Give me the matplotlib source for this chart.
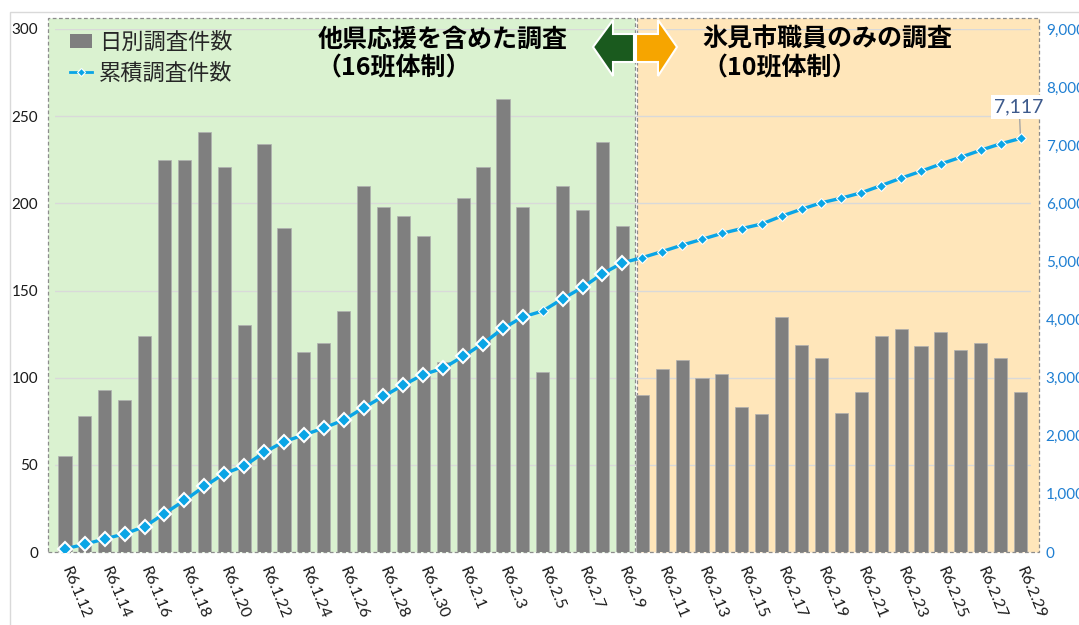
import matplotlib.pyplot as plt
from matplotlib.patches import Rectangle, Polygon
from matplotlib.lines import Line2D

W, H = 1079, 625

# daily counts R6.1.12 - R6.2.29
dates = [f"R6.1.{d}" for d in range(12, 32)] + [f"R6.2.{d}" for d in range(1, 30)]
daily = [55, 78, 93, 87, 124, 225, 225, 241, 221, 130,
         234, 186, 115, 120, 138, 210, 198, 193, 181, 109,
         203, 221, 260, 198, 103, 210, 196, 235, 187,
         90, 105, 110, 100, 102, 83, 79, 135, 119, 111,
         80, 92, 124, 128, 118, 126, 116, 120, 111, 92]
cumulative = [55, 133, 226, 313, 437, 662, 887, 1128, 1349, 1479,
              1713, 1899, 2014, 2134, 2272, 2482, 2680, 2873, 3054, 3163,
              3366, 3587, 3847, 4045, 4148, 4358, 4554, 4789, 4976,
              5066, 5171, 5281, 5381, 5483, 5566, 5645, 5780, 5899, 6010,
              6090, 6182, 6306, 6434, 6552, 6678, 6794, 6914, 7025, 7117]
n_support = 29  # days with support from other prefectures

left_ticks = [0, 50, 100, 150, 200, 250, 300]
right_ticks = [0, 1000, 2000, 3000, 4000, 5000, 6000, 7000, 8000, 9000]

CJK = ["Noto Sans CJK JP", "DejaVu Sans"]
NUM = ["Lato", "Noto Sans CJK JP", "DejaVu Sans"]
BAR_C = "#7F7F7F"
LINE_C = "#0AA5E6"
BLUE_TXT = "#1F7FD2"
GREEN_BG = "#DAF2D0"
ORANGE_BG = "#FFE6BA"


def px(x, y):
    # pixel coords (top-left origin) -> figure fraction
    return x / W, 1 - y / H


fig = plt.figure(figsize=(W / 100, H / 100), dpi=100)
fig.patch.set_facecolor("white")

# outer chart border
fig.add_artist(Rectangle(px(10, 700), 2, (700 - 12) / H, transform=fig.transFigure,
                         fill=False, edgecolor="#D9D9D9", lw=1))

x0, y0 = px(55, 552)
x1, y1 = px(1030.5, 29)
ax = fig.add_axes([x0, y0, x1 - x0, y1 - y0])
ax.patch.set_visible(False)
ax2 = ax.twinx()

xs = list(range(len(daily)))
ax.set_xlim(-0.5, len(daily) - 0.5)
ax.set_ylim(0, 300)
ax2.set_ylim(0, 9000)

# background regions (extend a bit beyond the plot area)
step = 975.5 / len(daily)
top = 300 + 11 / 523 * 300
left_edge = -0.5 - 7 / step
mid = n_support - 0.5 + 2.5 / step
right_edge = len(daily) - 0.5 + 8.5 / step
ax.add_patch(Rectangle((left_edge, 0), mid - left_edge, top, facecolor=GREEN_BG,
                       edgecolor="#8C8C8C", ls=(0, (3, 2)), lw=0.9, clip_on=False, zorder=0))
ax.add_patch(Rectangle((mid + 2 / step, 0), right_edge - mid - 2 / step, top, facecolor=ORANGE_BG,
                       edgecolor="#8C8C8C", ls=(0, (3, 2)), lw=0.9, clip_on=False, zorder=0))

ax.set_axisbelow(True)
ax.yaxis.grid(True, color="#D9D9D9", lw=1)
ax.bar(xs, daily, width=0.66, color=BAR_C, edgecolor="#B0B0B0", lw=0.5, zorder=2)

# cumulative line
ax2.plot(xs, cumulative, color=LINE_C, lw=2.4, zorder=3)
big = [i for i in range(n_support) if i != 24]
small = [i for i in xs if i not in big]
ax2.plot([xs[i] for i in small], [cumulative[i] for i in small], ls="none", marker="D",
         ms=5, mfc=LINE_C, mec="white", mew=0.8, zorder=4)
ax2.plot([xs[i] for i in big], [cumulative[i] for i in big], ls="none", marker="D",
         ms=7, mfc=LINE_C, mec="white", mew=1.5, zorder=4)

ax2.annotate(f"{cumulative[-1]:,}", xy=(xs[-1], cumulative[-1]), xytext=(-1, 22.5),
             textcoords="offset points", ha="center", va="center", fontsize=14,
             family=NUM, color="#3D5A8C", annotation_clip=False,
             bbox=dict(boxstyle="square,pad=0.18", fc="white", ec="none"),
             arrowprops=dict(arrowstyle="-", color="#A6A6A6", lw=1, shrinkA=0, shrinkB=3))

# axes styling
for a in (ax, ax2):
    for s in a.spines.values():
        s.set_visible(False)
ax.set_yticks(left_ticks)
ax.set_yticklabels([str(v) for v in left_ticks], family=NUM, fontsize=11, color="#1A1A1A")
ax.tick_params(axis="y", length=0, pad=12)
ax2.set_yticks(right_ticks)
ax2.set_yticklabels([f"{v:,}" for v in right_ticks], family=NUM, fontsize=11, color=BLUE_TXT)
ax2.tick_params(axis="y", length=0, pad=11)

ax.set_xticks(xs[::2])
ax.set_xticklabels(dates[::2], rotation=-67.5, rotation_mode="anchor", ha="left",
                   va="center", family=NUM, fontsize=11.5, color="#1A1A1A")
ax.tick_params(axis="x", length=0, pad=11)

# legend
handles = [Rectangle((0, 0), 1, 1, facecolor=BAR_C),
           Line2D([], [], color=LINE_C, lw=2, marker="D", ms=4, mfc=LINE_C, mec="white", mew=0.8)]
fig.legend(handles, ["日別調査件数", "累積調査件数"], loc="upper left",
           bbox_to_anchor=px(70, 31), frameon=False,
           prop=dict(family=CJK, size=16), labelcolor="#262626",
           handlelength=1.0, handleheight=0.6, handletextpad=0.3, labelspacing=0.35,
           borderpad=0, borderaxespad=0)

# headings
fig.text(*px(318, 40), "他県応援を含めた調査", family=CJK, fontsize=18, weight="bold",
         ha="left", va="center")
fig.text(*px(316, 68), "（16班体制）", family=CJK, fontsize=18, weight="bold",
         ha="left", va="center")
fig.text(*px(702, 40), "氷見市職員のみの調査", family=CJK, fontsize=18, weight="bold",
         ha="left", va="center")
fig.text(*px(702, 68), "（10班体制）", family=CJK, fontsize=18, weight="bold",
         ha="left", va="center")

# double arrow between the phases
green_arrow = [(593, 47), (613, 20), (613, 34), (634, 34), (634, 62), (613, 62), (613, 76)]
orange_arrow = [(677, 47), (658, 20), (658, 34), (636, 34), (636, 62), (658, 62), (658, 76)]
for pts, c in ((green_arrow, "#1A5A1E"), (orange_arrow, "#F6A500")):
    fig.add_artist(Polygon([px(*p) for p in pts], closed=True, transform=fig.transFigure,
                           facecolor=c, edgecolor="white", lw=1.5))

fig.savefig("out.png", dpi=100)
